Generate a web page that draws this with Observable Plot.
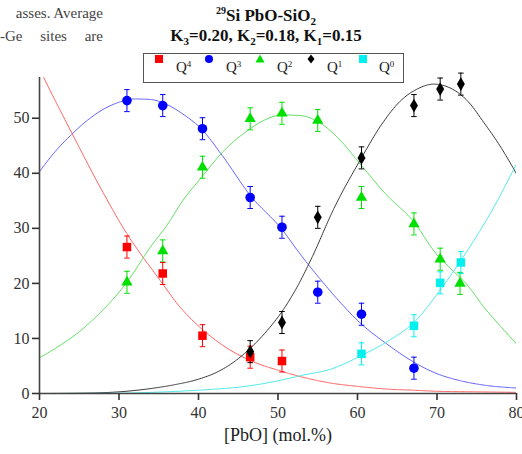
<!DOCTYPE html>
<html>
<head>
<meta charset="utf-8">
<script src="https://cdn.jsdelivr.net/npm/d3@7"></script>
<script src="https://cdn.jsdelivr.net/npm/@observablehq/plot@0.6"></script>
<style>
  body { margin: 0; background: #fff; }
  #wrap { position: relative; width: 522px; height: 454px; overflow: hidden; font-family: "Liberation Serif", serif; color: #222; }
  #wrap svg { position: absolute; left: 0; top: 0; }
  .frag { position: absolute; left: 0; width: 103px; font-size: 15px; color: #444; white-space: nowrap; }
  .title { position: absolute; left: 100px; width: 332px; text-align: center; font-weight: bold; font-size: 17px; color: #111; white-space: nowrap; }
  #legend { position: absolute; left: 143px; top: 53px; width: 259px; height: 28px; border: 1.5px solid #555; background: #fff; z-index: 2; }
  .lg { position: absolute; font-size: 15px; color: #222; top: 5px; }
  .lg sup { font-size: 9px; vertical-align: 5px; }
  .lsym { position: absolute; top: 9px; }
  #xlabel { position: absolute; left: 0; width: 556px; text-align: center; top: 425px; font-size: 18px; color: #222; }
</style>
</head>
<body>
<div id="wrap">
  <div class="frag" style="top:5px;text-align:right;">asses. Average</div>
  <div class="frag" style="top:28px;text-align:justify;text-align-last:justify;">-Ge sites are</div>
  <div class="title" style="top:5px;"><sup style="font-size:10px;">29</sup>Si PbO-SiO<sub style="font-size:11px;">2</sub></div>
  <div class="title" style="top:26px;">K<sub style="font-size:11px;">3</sub>=0.20, K<sub style="font-size:11px;">2</sub>=0.18, K<sub style="font-size:11px;">1</sub>=0.15</div>
  <div id="legend"></div>
  <div id="xlabel">[PbO] (mol.%)</div>
</div>
<script>
// ---- data ----
const seriesNames = ["Q4", "Q3", "Q2", "Q1", "Q0"];
const seriesSup = ["4", "3", "2", "1", "0"];
const seriesColors = ["#ff0000", "#0000ff", "#00e000", "#000000", "#00f0f0"];
const curveColors = ["#ff5050", "#5050ff", "#55dd55", "#222222", "#44e8e8"];
const seriesSymbols = ["square", "circle", "triangle", "diamond", "square"];

const q4X = [31, 35.5, 40.5, 46.5, 50.5];
const q4Y = [26.6, 21.8, 10.5, 6.6, 5.9];
const q3X = [31, 35.5, 40.5, 46.5, 50.5, 55, 60.5, 67.1];
const q3Y = [53.2, 52.3, 48.1, 35.6, 30.2, 18.4, 14.4, 4.6];
const q2X = [31, 35.5, 40.5, 46.5, 50.5, 55, 60.5, 67.1, 70.4, 72.9];
const q2Y = [20.2, 25.9, 41.1, 49.9, 50.9, 49.6, 35.6, 30.8, 24.4, 20.0];
const q1X = [46.5, 50.5, 55, 60.5, 67.1, 70.4, 73];
const q1Y = [7.6, 12.9, 32.0, 42.8, 52.3, 55.3, 56.2];
const q0X = [60.5, 67.1, 70.4, 73];
const q0Y = [7.2, 12.3, 20.1, 23.8];
const errorHalf = 2;

// fitted curves
const c4X = [20, 20.5, 24, 28, 31, 33, 35.2, 37.5, 40.2, 43, 46.5, 50.3, 53, 56.6, 60, 63.7, 67, 70, 75, 80];
const c4Y = [59, 57.5, 47.5, 36.5, 29, 24.8, 20.5, 16, 12, 8.8, 6.0, 4.1, 3.0, 1.9, 1.3, 0.8, 0.6, 0.4, 0.3, 0.2];
const c3X = [20, 22, 24, 26, 28, 30, 32, 34, 36, 38, 40.4, 43, 46.5, 50.5, 52.8, 55.3, 57.8, 60.5, 63.5, 67.2, 70, 73, 76, 80];
const c3Y = [40.3, 44, 47, 49.6, 51.6, 52.9, 53.5, 53.4, 52.5, 50.8, 48.0, 43.2, 36.0, 29.8, 25.3, 20.8, 16.6, 12.6, 9.2, 5.6, 3.6, 2.3, 1.5, 1.0];
const c2X = [20, 22, 25, 28, 31, 33.9, 36, 38, 40.4, 43, 46.5, 48.5, 50.5, 52.8, 55, 57.5, 60.5, 63.5, 67.3, 69.6, 72, 73.7, 76, 78, 80];
const c2Y = [6.5, 8.2, 11.2, 15.2, 20.2, 26.5, 30.5, 35, 39.3, 43.8, 48.1, 49.8, 50.6, 50.5, 49.4, 46.5, 41.4, 36.3, 30.8, 25.9, 22.3, 19.9, 15.5, 12.2, 9.0];
const c1X = [20, 25, 30, 34, 37, 40, 42.5, 44.8, 46.5, 48.5, 50.7, 52.5, 54.3, 57, 60.5, 63, 65.3, 67.5, 69.6, 71.5, 73.8, 76, 78, 80];
const c1Y = [0, 0.05, 0.3, 0.9, 1.6, 2.6, 4.0, 6.1, 8.2, 11.2, 15.3, 19.6, 24.8, 33.5, 42.8, 48.8, 53.0, 55.3, 56.2, 55.6, 53.2, 49.0, 44.8, 39.9];
const c0X = [20, 30, 34, 40, 46.5, 50, 53, 56.6, 60.5, 63.7, 67.3, 70.4, 73.8, 76.9, 80];
const c0Y = [0, 0.05, 0.2, 0.6, 1.4, 2.3, 3.3, 4.4, 6.9, 9.4, 13.2, 18.8, 25.9, 33.2, 41.7];

const xTicks = [20, 30, 40, 50, 60, 70, 80];
const yTicks = [0, 10, 20, 30, 40, 50];

// ---- build tables ----
const ptsX = [q4X, q3X, q2X, q1X, q0X];
const ptsY = [q4Y, q3Y, q2Y, q1Y, q0Y];
const crvX = [c4X, c3X, c2X, c1X, c0X];
const crvY = [c4Y, c3Y, c2Y, c1Y, c0Y];

const points = [];
ptsX.forEach((xs, i) => xs.forEach((x, j) => points.push({s: i, x, y: ptsY[i][j]})));
const curves = [];
crvX.forEach((xs, i) => xs.forEach((x, j) => curves.push({s: i, x, y: crvY[i][j]})));

const capW = 0.35;
const dashes = ["1.5,0.8", "1.5,0.8", null, "1.2,0.8", null];

const lineMarks = [0, 1, 2, 3, 4].map(i => Plot.line(curves.filter(d => d.s === i), {
  x: "x", y: "y", stroke: curveColors[i], strokeWidth: 1, curve: "monotone-x",
  strokeDasharray: dashes[i], strokeOpacity: 0.9, clip: true
}));

const errMarks = [];
const dotMarks = [];
[2, 1, 0, 3, 4].forEach(i => {
  const pts = points.filter(d => d.s === i);
  errMarks.push(Plot.ruleX(pts, {x: "x", y1: d => d.y - errorHalf, y2: d => d.y + errorHalf, stroke: seriesColors[i], strokeWidth: 1}));
  errMarks.push(Plot.link(pts, {x1: d => d.x - capW, x2: d => d.x + capW, y1: d => d.y + errorHalf, y2: d => d.y + errorHalf, stroke: seriesColors[i], strokeWidth: 1}));
  errMarks.push(Plot.link(pts, {x1: d => d.x - capW, x2: d => d.x + capW, y1: d => d.y - errorHalf, y2: d => d.y - errorHalf, stroke: seriesColors[i], strokeWidth: 1}));
  const r = seriesSymbols[i] === "circle" ? 4.8 : seriesSymbols[i] === "triangle" ? 4.2 : seriesSymbols[i] === "diamond" ? 4.2 : 4.8;
  dotMarks.push(Plot.dot(pts, {x: "x", y: "y", symbol: () => seriesSymbols[i], fill: seriesColors[i], r}));
});

const chart = Plot.plot({
  width: 522, height: 454,
  marginLeft: 39, marginRight: 6, marginTop: 77, marginBottom: 61,
  x: {domain: [20, 80]},
  y: {domain: [0, 57.4]},
  symbol: {type: "identity"},
  style: {fontFamily: "'Liberation Serif', serif", fontSize: "16px", color: "#333", background: "transparent", overflow: "visible"},
  marks: [
    ...lineMarks,
    ...errMarks,
    ...dotMarks,
    Plot.ruleY([0], {stroke: "#444", strokeWidth: 1.6}),
    Plot.ruleX([20], {stroke: "#444", strokeWidth: 1.6}),
    Plot.axisX({ticks: xTicks, tickSize: 7, tickPadding: 6, tickFormat: d => String(d), label: null, fontSize: 16, strokeWidth: 1.6, stroke: "#333"}),
    Plot.axisY({ticks: yTicks, tickSize: 7, tickPadding: 3, tickFormat: d => String(d), label: null, fontSize: 16, strokeWidth: 1.6, stroke: "#333"})
  ]
});
document.getElementById("wrap").prepend(chart);

// ---- legend (HTML) ----
const legend = document.getElementById("legend");
const symX = [15, 65, 116, 167, 219];
const txtX = [32, 82, 133, 183, 235];
const symPath = {
  square: "M-4,-4H4V4H-4Z",
  circle: "M4,0A4,4 0 1,1 -4,0A4,4 0 1,1 4,0Z",
  triangle: "M0,-4.5L4.5,3.5H-4.5Z",
  diamond: "M0,-4.5L3.5,0L0,4.5L-3.5,0Z"
};
seriesNames.forEach((name, i) => {
  const s = document.createElementNS("http://www.w3.org/2000/svg", "svg");
  s.setAttribute("width", 10); s.setAttribute("height", 10);
  s.setAttribute("viewBox", "-5 -5 10 10");
  s.setAttribute("class", "lsym");
  s.style.left = (symX[i] - 5) + "px";
  s.innerHTML = `<path d="${symPath[seriesSymbols[i]]}" fill="${seriesColors[i]}"/>`;
  legend.appendChild(s);
  const t = document.createElement("div");
  t.className = "lg";
  t.style.left = txtX[i] + "px";
  t.innerHTML = `Q<sup>${seriesSup[i]}</sup>`;
  legend.appendChild(t);
});
</script>
</body>
</html>
